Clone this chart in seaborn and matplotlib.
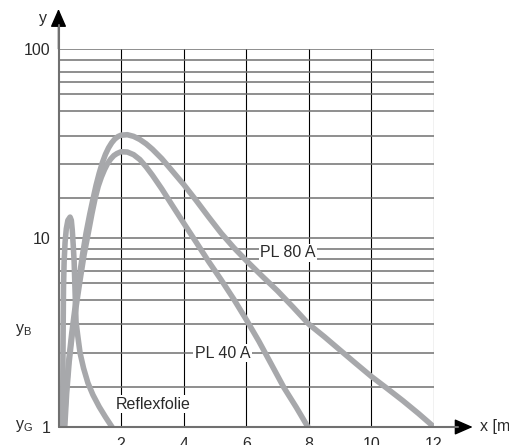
import matplotlib
matplotlib.use("Agg")
import matplotlib.pyplot as plt
import seaborn as sns

# Curve data (x in m, y log scale)
pl80_x = [0.18, 0.24, 0.32, 0.42, 0.53, 0.65, 0.77, 0.88, 1.0, 1.1, 1.2, 1.3, 1.4, 1.5, 1.6, 1.7, 1.8, 1.9, 2.0,
          2.2, 2.4, 2.6, 2.8, 3.0, 3.3, 3.6, 4.0, 4.4, 4.8, 5.2, 5.6, 6.0, 6.5, 7.0, 7.5, 8.0, 8.5, 9.0, 9.5,
          10.0, 10.5, 11.0, 11.5, 12.0]
pl80_y = [1.0, 1.5, 2.2, 3.1, 4.3, 6.0, 8.2, 10.6, 13.4, 16.0, 19.0, 22.0, 25.0, 27.7, 30.0, 31.9, 33.4, 34.4, 35.0,
          35.2, 34.5, 33.2, 31.5, 29.5, 26.3, 23.0, 19.2, 15.8, 12.9, 10.6, 8.9, 7.6, 6.3, 5.25, 4.3, 3.5, 3.0,
          2.55, 2.17, 1.85, 1.6, 1.38, 1.18, 1.0]

pl40_x = [0.2, 0.26, 0.34, 0.44, 0.56, 0.69, 0.82, 0.95, 1.07, 1.17, 1.27, 1.37, 1.47, 1.57, 1.67, 1.77, 1.87, 2.0,
          2.2, 2.4, 2.6, 2.8, 3.0, 3.3, 3.6, 4.0, 4.4, 4.8, 5.2, 5.6, 6.0, 6.4, 6.8, 7.2, 7.6, 7.97]
pl40_y = [1.0, 1.5, 2.2, 3.1, 4.3, 6.0, 8.2, 10.6, 13.5, 16.2, 18.8, 21.0, 23.0, 24.8, 26.2, 27.3, 28.0, 28.6,
          28.5, 27.6, 26.0, 23.8, 21.5, 18.2, 15.2, 12.0, 9.5, 7.5, 6.0, 4.75, 3.7, 2.85, 2.15, 1.62, 1.27, 1.0]

refl_x = [0.13, 0.14, 0.15, 0.16, 0.18, 0.21, 0.25, 0.3, 0.37, 0.41, 0.44, 0.47, 0.5, 0.53, 0.56, 0.62, 0.69,
          0.8, 0.94, 1.1, 1.3, 1.5, 1.71]
refl_y = [1.0, 2.0, 3.5, 5.5, 7.5, 9.5, 11.2, 12.4, 12.9, 12.4, 11.0, 9.2, 7.5, 5.2, 3.6, 3.0, 2.46,
          2.05, 1.71, 1.48, 1.28, 1.13, 1.0]

# grid / ticks
x_ticks = [2, 4, 6, 8, 10, 12]
y_major = [1, 10, 100]
y_major_labels = ["1", "10", "100"]
y_grid = [1.63, 2.46, 3.5, 4.7, 5.8, 6.7, 7.75, 8.75, 16.3, 24.6, 34.7, 47, 58, 67, 76, 87.5]

sns.set_style("white")
plt.rcParams["font.family"] = ["Liberation Sans", "DejaVu Sans"]
plt.rcParams["font.size"] = 11.5

curve_color = "#a7a8ab"
grid_gray = "#707070"
text_color = "#2a2a2a"
fs = 11.5

fig = plt.figure(figsize=(5.09, 4.45), dpi=100)
ax = fig.add_axes([58.5 / 509, 18 / 445, 375.5 / 509, 378 / 445])

for xs, ys in [(pl80_x, pl80_y), (pl40_x, pl40_y), (refl_x, refl_y)]:
    sns.lineplot(x=xs, y=ys, sort=False, estimator=None, ax=ax,
                 color=curve_color, linewidth=4, zorder=3)

ax.set_yscale("log")
ax.set_xlim(0, 12)
ax.set_ylim(1, 100)

ax.set_xticks(x_ticks)
ax.set_yticks(y_major)
ax.set_yticklabels(y_major_labels)
ax.set_yticks(y_grid, minor=True)
ax.yaxis.set_minor_formatter(matplotlib.ticker.NullFormatter())
ax.tick_params(axis="both", which="both", length=0, colors=text_color, labelsize=fs)
ax.tick_params(axis="x", pad=7.5)
ax.tick_params(axis="y", pad=6)

ax.grid(True, axis="y", which="both", color=grid_gray, linewidth=1.1, zorder=1)
ax.grid(True, axis="x", which="major", color="black", linewidth=0.8, zorder=1)
ax.set_axisbelow(True)

for s in ax.spines.values():
    s.set_visible(False)

# axes with arrows
head = "-|>,head_length=0.8,head_width=0.35"
ax.annotate("", xy=(0, 1.106), xytext=(0, 1.0), xycoords="axes fraction",
            arrowprops=dict(arrowstyle=head, color="black", lw=1, mutation_scale=14,
                            shrinkA=0, shrinkB=0), zorder=5)
ax.annotate("", xy=(1.103, 0), xytext=(1.0, 0), xycoords="axes fraction",
            arrowprops=dict(arrowstyle=head, color="black", lw=1, mutation_scale=14,
                            shrinkA=0, shrinkB=0), zorder=5)
ax.plot([0, 0], [0, 1.063], transform=ax.transAxes, color=grid_gray, lw=1.5,
        clip_on=False, zorder=6)
ax.plot([0, 1.064], [0, 0], transform=ax.transAxes, color=grid_gray, lw=1.5,
        clip_on=False, zorder=6)

ax.text(-0.041, 1.082, "y", transform=ax.transAxes, ha="center", va="center",
        color=text_color, fontsize=fs)
ax.text(1.122, 0, "x [m]", transform=ax.transAxes, ha="left", va="center",
        color=text_color, fontsize=fs)
ax.text(-0.116, 0.257, r"y$_\mathregular{B}$", transform=ax.transAxes,
        ha="left", va="center", color=text_color, fontsize=fs)
ax.text(-0.116, 0.003, r"y$_\mathregular{G}$", transform=ax.transAxes,
        ha="left", va="center", color=text_color, fontsize=fs)

# curve labels
box = dict(facecolor="white", edgecolor="none", pad=1)
ax.text(6.44, 8.33, "PL 80 A", ha="left", va="center", color=text_color,
        fontsize=fs, bbox=box, zorder=4)
ax.text(4.36, 2.46, "PL 40 A", ha="left", va="center", color=text_color,
        fontsize=fs, bbox=box, zorder=4)
ax.text(1.84, 1.32, "Reflexfolie", ha="left", va="center", color=text_color,
        fontsize=fs, bbox=box, zorder=4)

fig.savefig("out.png", dpi=100)
